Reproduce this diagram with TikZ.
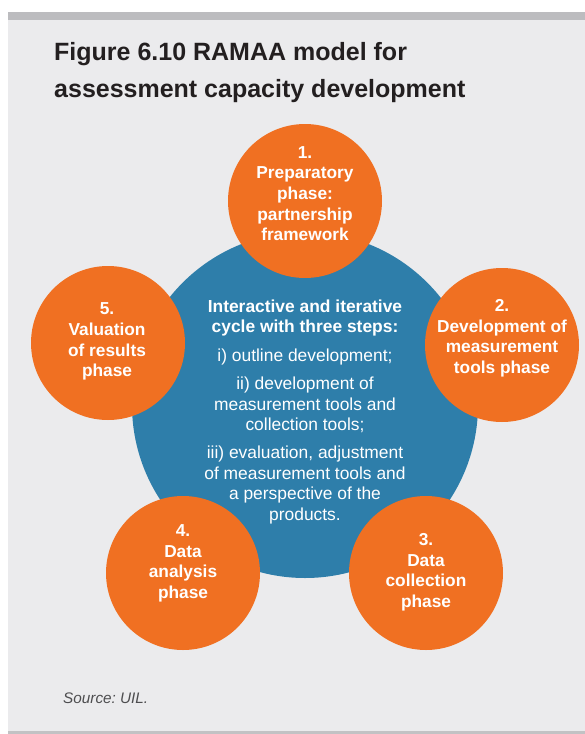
\documentclass[tikz,border=0pt]{standalone}
\usepackage{fontspec}
\setmainfont{Liberation Sans}
\frenchspacing
\definecolor{bgc}{HTML}{EBEBED}
\definecolor{barc}{HTML}{BCBCBF}
\definecolor{linec}{HTML}{C2C2C4}
\definecolor{orangec}{HTML}{F07022}
\definecolor{bluec}{HTML}{2E7EAA}
\definecolor{titlec}{HTML}{231F20}
\definecolor{srcc}{HTML}{4D4D4F}
\tikzset{
  orb/.style={circle, fill=orangec, minimum size=154pt, inner sep=0pt},
  hub/.style={circle, fill=bluec, minimum size=346pt, inner sep=0pt},
  ctext/.style={anchor=north, inner sep=0pt, text=white, align=center,
    font=\bfseries\fontsize{17.3}{20.7}\selectfont},
  htext/.style={anchor=north, inner sep=0pt, text=white, align=center,
    font=\fontsize{17.4}{20.6}\selectfont},
  ttl/.style={anchor=base west, inner sep=0pt, text=titlec,
    font=\bfseries\fontsize{25}{30}\selectfont},
}
\begin{document}
\begin{tikzpicture}[x=1pt,y=-1pt]
\useasboundingbox (0,0) rectangle (585,734);
\fill[white] (0,0) rectangle (585,734);
\fill[bgc] (8,20) rectangle (585,731);
\fill[barc] (8,12) rectangle (585,20);
\fill[linec] (8,731) rectangle (585,733.5);

\node[ttl] (t1) at (54,60) {Figure 6.10 RAMAA model for};
\node[ttl] (t2) at (54,97.7) {assessment capacity development};

\node[hub] (hub) at (305,405) {};
\node[orb] (c1) at (305,201) {};
\node[orb] (c2) at (502,345) {};
\node[orb] (c3) at (426,573) {};
\node[orb] (c4) at (183,573) {};
\node[orb] (c5) at (108,343) {};

\node[ctext] (l1) at (305,146) {1.\\Preparatory\\phase:\\partnership\\framework};
\node[ctext] (l2) at (502,299.3) {2.\\Development of\\measurement\\tools phase};
\node[ctext] (l3) at (426,533.3) {3.\\Data\\collection\\phase};
\node[ctext] (l4) at (183,524.3) {4.\\Data\\analysis\\phase};
\node[ctext] (l5) at (107,302.6) {5.\\Valuation\\of results\\phase};

\node[htext] (mid) at (305,299.3) {{\bfseries Interactive and iterative}\\
{\bfseries cycle with three steps:}\\[8pt]
i) outline development;\\[7.5pt]
ii) development of\\measurement tools and\\collection tools;\\[7.5pt]
iii) evaluation, adjustment\\of measurement tools and\\a perspective of the\\products.};

\node[anchor=base west, inner sep=0pt, text=srcc,
  font=\itshape\fontsize{15.3}{18}\selectfont] (src) at (63,703.3) {Source: UIL.};
\end{tikzpicture}
\end{document}
